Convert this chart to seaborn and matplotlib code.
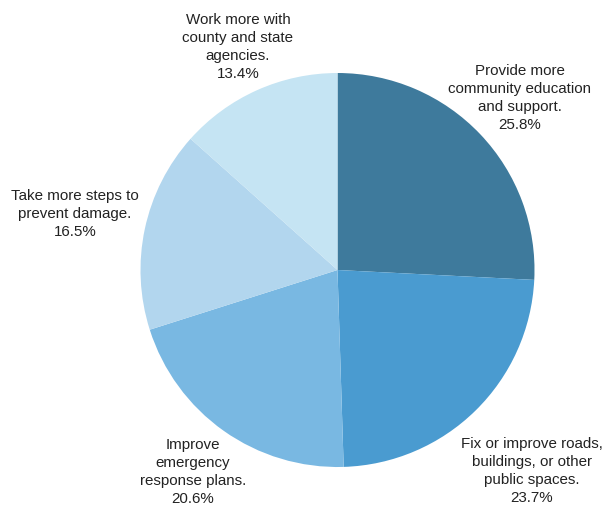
import matplotlib
matplotlib.use("Agg")
import matplotlib.pyplot as plt
import seaborn as sns

labels = [
    "Provide more\ncommunity education\nand support.",
    "Fix or improve roads,\nbuildings, or other\npublic spaces.",
    "Improve\nemergency\nresponse plans.",
    "Take more steps to\nprevent damage.",
    "Work more with\ncounty and state\nagencies.",
]
values = [25.8, 23.7, 20.6, 16.5, 13.4]
colors = ["#3e7a9c", "#4a9bd0", "#79b8e2", "#b2d6ee", "#c5e4f3"]

sns.set_theme(style="white")
plt.rcParams["font.family"] = ["Liberation Sans", "DejaVu Sans"]

W, H = 607, 508
cx, cy, R = 337.5, 270.0, 197.0
fig = plt.figure(figsize=(W / 100, H / 100), dpi=100)
ax = fig.add_axes([0, 0, 1, 1])
ax.pie(values, colors=colors, startangle=90, counterclock=False,
       radius=1.0, center=(0, 0), wedgeprops=dict(linewidth=0))
ax.set_xlim(-cx / R, (W - cx) / R)
ax.set_ylim(-(H - cy) / R, cy / R)
ax.set_aspect("equal")
ax.axis("off")

# label anchor positions in pixels
label_px = [(520, 98), (532, 471), (193, 472), (75, 214), (238, 47)]
for lab, v, (px, py) in zip(labels, values, label_px):
    ax.text((px - cx) / R, (cy - py) / R, f"{lab}\n{v:.1f}%",
            ha="center", va="center", fontsize=10.9, color="#222222",
            linespacing=1.38)

fig.savefig("out.png", dpi=100, facecolor="white")
